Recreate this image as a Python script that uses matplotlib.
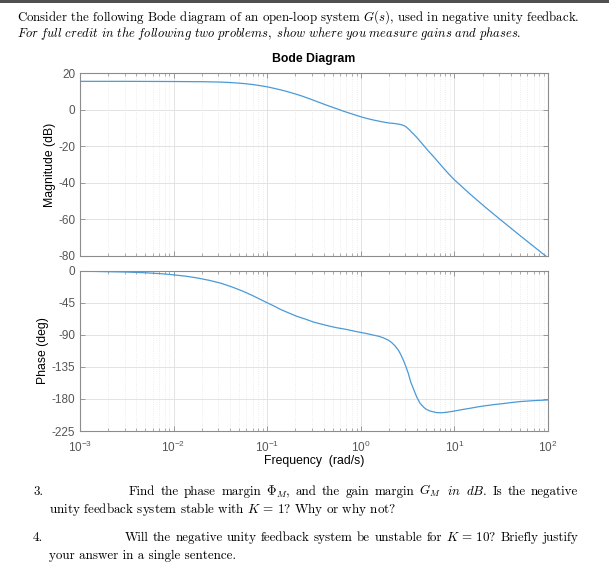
import matplotlib
matplotlib.use('Agg')
import matplotlib.pyplot as plt
from matplotlib.patches import Rectangle
from matplotlib.ticker import LogLocator, NullFormatter, FixedLocator

# values
freq_mag = [0.001, 0.003, 0.01, 0.02, 0.0313, 0.04, 0.05, 0.06, 0.0711, 0.085, 0.1,
            0.12, 0.14, 0.161, 0.2, 0.243, 0.3, 0.367, 0.45, 0.553, 0.65, 0.767,
            0.87, 1.0, 1.2, 1.4, 1.6, 1.89, 2.0, 2.22, 2.52, 2.7, 2.85, 3.0, 3.09,
            3.22, 3.36, 3.5, 3.64, 3.95, 4.3, 4.66, 5.2, 5.96, 6.7, 7.62, 8.7, 10.0,
            14.7, 22.1, 33.3, 50.2, 70.0, 100.0]
mag_db = [15.6, 15.6, 15.5, 15.4, 15.2, 14.95, 14.6, 14.25, 13.8, 13.2, 12.6,
          11.7, 10.9, 10.1, 8.7, 7.3, 5.6, 3.9, 2.2, 0.6, -0.7, -1.9,
          -2.8, -3.8, -4.9, -5.7, -6.3, -7.0, -7.2, -7.4, -7.8, -8.1, -8.5, -9.1, -9.6,
          -10.4, -11.3, -12.3, -13.1, -15.0, -17.2, -19.3, -22.2, -25.5, -28.5, -31.8, -35.1, -38.3,
          -46.1, -53.9, -61.4, -68.8, -74.7, -81.0]

freq_ph = [0.001, 0.00317, 0.005, 0.0075, 0.01, 0.0133, 0.0176, 0.024, 0.0319, 0.042,
           0.0556, 0.07, 0.085, 0.1, 0.12, 0.137, 0.161, 0.207, 0.25, 0.311, 0.38,
           0.469, 0.55, 0.706, 0.85, 1.0, 1.18, 1.36, 1.55, 1.74, 1.97, 2.13, 2.32,
           2.52, 2.67, 2.85, 3.04, 3.22, 3.41, 3.64, 3.95, 4.29, 4.73, 5.0, 5.5,
           6.46, 7.3, 8.26, 10.0, 12.0, 14.7, 18.0, 22.1, 27.0, 33.3, 41.0, 50.2,
           70.0, 100.0]
phase_deg = [-0.6, -1.9, -2.9, -4.3, -5.8, -7.6, -10.0, -13.5, -17.5, -22.8,
             -29.0, -35.0, -40.5, -45.0, -50.0, -54.0, -58.0, -64.0, -67.5, -72.0, -75.0,
             -78.0, -80.0, -82.5, -84.8, -86.7, -88.5, -90.4, -92.0, -94.2, -97.5, -100.7, -105.5,
             -111.5, -117.6, -125.6, -135.0, -144.3, -156.0, -165.4, -177.0, -186.0, -192.0, -194.5, -197.0,
             -199.2, -199.4, -198.7, -197.0, -195.0, -193.1, -191.0, -189.3, -187.8, -186.5, -185.0, -183.7,
             -182.4, -181.4]

mag_ticks = [20, 0, -20, -40, -60, -80]
phase_ticks = [0, -45, -90, -135, -180, -225]

W, H = 609, 574
plt.rcParams['font.family'] = ['Liberation Sans', 'DejaVu Sans']
plt.rcParams['mathtext.fontset'] = 'cm'
plt.rcParams['axes.unicode_minus'] = False

fig = plt.figure(figsize=(W / 100, H / 100), dpi=100)
line_color = '#4a9ad8'
spine_color = '#8c8c8c'
label_color = '#555555'


def px(x0, y0, x1, y1):
    # pixel box (top-left origin) -> figure fraction rect
    return [x0 / W, 1 - y1 / H, (x1 - x0) / W, (y1 - y0) / H]


def style_axes(ax, ticks, lim):
    ax.set_xscale('log')
    ax.set_xlim(1e-3, 1e2)
    ax.set_ylim(*lim)
    ax.yaxis.set_major_locator(FixedLocator(ticks))
    ax.xaxis.set_major_locator(LogLocator(base=10, numticks=10))
    ax.xaxis.set_minor_locator(LogLocator(base=10, subs=range(2, 10), numticks=20))
    ax.xaxis.set_minor_formatter(NullFormatter())
    ax.grid(True, which='major', color='#e3e3e3', linewidth=0.7)
    ax.grid(True, which='minor', axis='x', color='#e8e8e8', linewidth=0.6, linestyle=':')
    ax.set_axisbelow(True)
    for s in ax.spines.values():
        s.set_color(spine_color)
        s.set_linewidth(0.8)
    ax.tick_params(which='both', direction='in', top=True, right=True,
                   color=spine_color, labelcolor=label_color, labelsize=8.5)
    ax.tick_params(which='major', length=3.5, width=0.6)
    ax.tick_params(which='minor', length=2, width=0.5)


ax1 = fig.add_axes(px(80, 73.3, 548, 256))
ax1.plot(freq_mag, mag_db, color=line_color, linewidth=0.9)
style_axes(ax1, mag_ticks, (-80, 20))
ax1.tick_params(labelbottom=False)

ax2 = fig.add_axes(px(80, 270.7, 548, 431))
ax2.plot(freq_ph, phase_deg, color=line_color, linewidth=0.9)
style_axes(ax2, phase_ticks, (-225, 0))
ax2.tick_params(axis='x', pad=6)

fig.text(314 / W, 1 - 59 / H, 'Bode Diagram', ha='center', va='center',
         fontsize=8.8, fontweight='bold')
fig.text(49.6 / W, 1 - 164.5 / H, 'Magnitude (dB)', rotation=90, ha='center', va='center', fontsize=8.8)
fig.text(43.3 / W, 1 - 351 / H, 'Phase (deg)', rotation=90, ha='center', va='center', fontsize=8.8)
fig.text(314 / W, 1 - 461 / H, 'Frequency  (rad/s)', ha='center', va='center', fontsize=8.8)

# dark strip at the very top of the page
fig.patches.append(Rectangle((0, 1 - 3 / H), 1, 3 / H, transform=fig.transFigure,
                             facecolor='#505050', edgecolor='none'))

body = dict(family='cmr10', math_fontfamily='cm', va='baseline')
renderer = fig.canvas.get_renderer()


def put_line(x, y, s, size=9.4):
    return fig.text(x / W, 1 - y / H, s, fontsize=size, **body)


def put_justified(words, x0, x1, y):
    texts = [put_line(0, y, w) for w in words]
    widths = [t.get_window_extent(renderer).width for t in texts]
    gap = (x1 - x0 - sum(widths)) / (len(words) - 1)
    x = x0
    for t, w in zip(texts, widths):
        t.set_x(x / W)
        x += w + gap


put_line(17, 20.5, r'Consider the following Bode diagram of an open-loop system $G(s)$, used in negative unity feedback.',
         size=9.25)
put_line(17, 37.5, r'$\mathit{For\ full\ credit\ in\ the\ following\ two\ problems,\ show\ where\ you\ measure\ gains\ and\ phases.}$',
         size=9.05)

put_line(33, 495, '3.')
put_justified(['Find', 'the', 'phase', 'margin', r'$\Phi_M$,', 'and', 'the', 'gain', 'margin',
               r'$G_M$', r'$\mathit{in}$', r'$\mathit{dB}$.', 'Is', 'the', 'negative'], 129, 578, 495)
put_line(49, 513, r'unity feedback system stable with $K\,=\,1$? Why or why not?')

put_line(33, 541, '4.')
put_justified(['Will', 'the', 'negative', 'unity', 'feedback', 'system', 'be', 'unstable', 'for',
               r'$K\,=\,10$?', 'Briefly', 'justify'], 125, 578, 541)
put_line(49, 558.5, 'your answer in a single sentence.')

fig.savefig('out.png', dpi=100)
